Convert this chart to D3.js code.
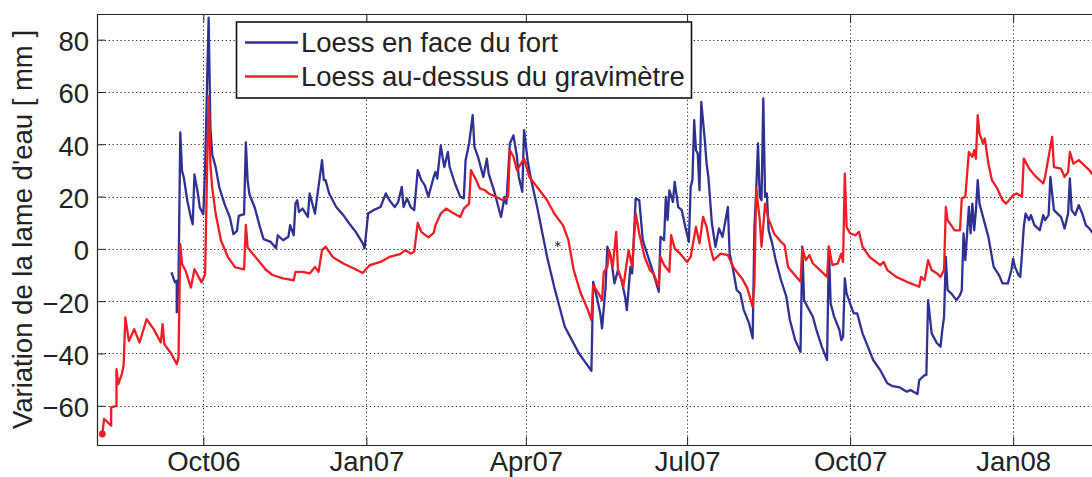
<!DOCTYPE html>
<html>
<head>
<meta charset="utf-8">
<script src="https://cdn.jsdelivr.net/npm/d3@7"></script>
<style>
  body { margin: 0; background: #fff; }
  svg { display: block; }
  text { font-family: "Liberation Sans", Arial, Helvetica, sans-serif; fill: #222; }
</style>
</head>
<body>
<svg id="chart" width="1092" height="477"></svg>
<script>
// Water-layer variation, two loess sites (mm)
const blueDates = [
  "2006-09-13","2006-09-15","2006-09-16","2006-09-16","2006-09-17","2006-09-18","2006-09-19","2006-09-20","2006-09-22","2006-09-24",
  "2006-09-25","2006-09-26","2006-09-28","2006-09-29","2006-10-01","2006-10-02","2006-10-03","2006-10-04","2006-10-05","2006-10-06",
  "2006-10-08","2006-10-10","2006-10-13","2006-10-16","2006-10-18","2006-10-20","2006-10-21","2006-10-24","2006-10-25","2006-10-26",
  "2006-10-27","2006-10-30","2006-11-02","2006-11-04","2006-11-08","2006-11-11","2006-11-12","2006-11-15","2006-11-18","2006-11-19",
  "2006-11-21","2006-11-22","2006-11-23","2006-11-24","2006-11-26","2006-11-29","2006-11-30","2006-12-03","2006-12-05","2006-12-07",
  "2006-12-08","2006-12-09","2006-12-11","2006-12-15","2006-12-19","2006-12-23","2006-12-26","2006-12-30","2006-12-31","2007-01-02",
  "2007-01-05","2007-01-09","2007-01-12","2007-01-14","2007-01-17","2007-01-19","2007-01-21","2007-01-22","2007-01-24","2007-01-26",
  "2007-01-28","2007-01-30","2007-02-01","2007-02-03","2007-02-05","2007-02-08","2007-02-09","2007-02-10","2007-02-12","2007-02-13",
  "2007-02-14","2007-02-16","2007-02-17","2007-02-20","2007-02-23","2007-02-25","2007-02-26","2007-02-28","2007-03-02","2007-03-03",
  "2007-03-05","2007-03-08","2007-03-10","2007-03-11","2007-03-14","2007-03-18","2007-03-20","2007-03-21","2007-03-23","2007-03-25",
  "2007-03-27","2007-03-28","2007-03-30","2007-03-31","2007-04-02","2007-04-04","2007-04-07","2007-04-10","2007-04-13","2007-04-17",
  "2007-04-20","2007-04-23","2007-04-27","2007-05-01","2007-05-05","2007-05-08","2007-05-09","2007-05-11","2007-05-13","2007-05-14",
  "2007-05-16","2007-05-17","2007-05-19","2007-05-21","2007-05-23","2007-05-25","2007-05-27","2007-05-28","2007-05-30","2007-05-31",
  "2007-06-02","2007-06-04","2007-06-06","2007-06-09","2007-06-12","2007-06-15","2007-06-16","2007-06-18","2007-06-19","2007-06-20",
  "2007-06-21","2007-06-23","2007-06-24","2007-06-26","2007-06-28","2007-06-30","2007-07-02","2007-07-03","2007-07-04","2007-07-05",
  "2007-07-06","2007-07-07","2007-07-08","2007-07-09","2007-07-11","2007-07-12","2007-07-13","2007-07-15","2007-07-17","2007-07-19",
  "2007-07-21","2007-07-22","2007-07-24","2007-07-25","2007-07-27","2007-07-29","2007-07-31","2007-08-02","2007-08-05","2007-08-07",
  "2007-08-08","2007-08-09","2007-08-10","2007-08-11","2007-08-12","2007-08-13","2007-08-14","2007-08-15","2007-08-16","2007-08-18",
  "2007-08-20","2007-08-23","2007-08-26","2007-08-28","2007-08-31","2007-09-03","2007-09-04","2007-09-05","2007-09-07","2007-09-10",
  "2007-09-12","2007-09-15","2007-09-18","2007-09-19","2007-09-20","2007-09-22","2007-09-25","2007-09-26","2007-09-27","2007-09-28",
  "2007-09-29","2007-10-01","2007-10-03","2007-10-05","2007-10-08","2007-10-11","2007-10-14","2007-10-18","2007-10-22","2007-10-25",
  "2007-10-29","2007-11-02","2007-11-04","2007-11-08","2007-11-09","2007-11-12","2007-11-13","2007-11-14","2007-11-16","2007-11-19",
  "2007-11-21","2007-11-22","2007-11-23","2007-11-24","2007-11-25","2007-11-27","2007-11-30","2007-12-02","2007-12-03","2007-12-04",
  "2007-12-05","2007-12-06","2007-12-07","2007-12-08","2007-12-09","2007-12-10","2007-12-11","2007-12-12","2007-12-13","2007-12-15",
  "2007-12-18","2007-12-21","2007-12-24","2007-12-26","2007-12-29","2007-12-31","2008-01-01","2008-01-02","2008-01-04","2008-01-05",
  "2008-01-06","2008-01-07","2008-01-08","2008-01-10","2008-01-11","2008-01-13","2008-01-16","2008-01-18","2008-01-19","2008-01-21",
  "2008-01-22","2008-01-24","2008-01-26","2008-01-28","2008-01-30","2008-02-01","2008-02-02","2008-02-03","2008-02-05","2008-02-07",
  "2008-02-09","2008-02-11","2008-02-13","2008-02-15","2008-02-19"
];
const blueValues = [
  -9,-12.8,-12.2,-24.3,-12.2,44.5,29.8,27.3,18.3,12,
  9.4,28.5,20.9,15.8,13.3,30.5,60,88.4,46.4,36.2,
  31.1,23.5,17.1,12,5.6,6.9,12.6,13.3,40.7,26,
  20.9,15.8,8.2,3.7,2.7,0.2,5.2,3.3,4.6,9.1,
  5.2,17.3,18.6,14.1,15.4,12.2,21.2,13.5,23.7,33.9,
  26.3,26.3,21.2,16,12.9,9.1,6.5,2.1,0.2,13.5,
  14.8,16,21.2,18.6,16,18,23.7,16,19.3,16,
  14.8,30.1,26.3,24.3,19.9,27.5,29.4,26.9,39.6,35.2,
  31.3,37.1,31.3,25,19.9,19.3,33.9,40.3,51.1,39,
  35.2,27.5,34.5,28.8,22.4,12.2,19.9,17.3,40.3,43.4,
  35.2,27.5,21.8,45.4,33.9,26.3,17.3,7.1,-3.1,-14.5,
  -22.2,-29.8,-34.9,-40,-43.8,-46.6,-12.6,-18.3,-24.7,-30.4,
  -14.5,0.8,-3.1,-13.2,-8.1,-12,-18.3,-23.4,-6.9,-9.4,
  19.3,18.6,3.3,-3.1,-9.4,-16.4,4.6,3.3,19.9,11,
  22.4,18,25.6,16,14.8,8.4,2.7,23.7,26.3,49.2,
  37.7,36.5,22.4,56.2,41.5,32.6,27.5,9.7,0.8,7.8,
  4.6,8.4,16,-1.8,-8.1,-15.8,-17,-23.4,-28.5,-34.2,
  8.4,22.4,40.3,19.9,18.6,57.5,19.9,21.2,7.1,2.1,
  -4.3,-12,-18.3,-27.2,-34.9,-39.4,0.8,-19.6,-22.2,-26,
  -31.1,-37.4,-42.5,0.8,-20.9,-26,-31.1,-34.9,-33.6,-11.3,
  -17,-20.9,-24.7,-24.7,-32.3,-37.4,-42.5,-46.4,-51.4,-52.5,
  -53,-54.6,-54,-55.5,-50.2,-48.3,-48.3,-19.6,-32.3,-36.1,
  -37.4,-31.1,-26,-3.1,-15.8,-17,-19.6,-17.7,-15.8,5.9,
  -4.3,5.9,16,5.9,17.3,7.1,14.8,26.3,17.3,12.2,
  4.6,-6.9,-10,-13.2,-13.2,-8.1,-3.7,-6.9,-10,-10.7,
  -1.8,8.4,13.5,11,12.9,9.1,7.1,12.9,11,12.9,
  27.5,14.8,13.5,12.2,7.8,13.5,26.9,14.8,12.9,16.7,
  13.5,9.1,7.8,5.9,4.5
];

const redDates = [
  "2006-08-05","2006-08-06","2006-08-08","2006-08-10","2006-08-10","2006-08-13","2006-08-13","2006-08-14","2006-08-16","2006-08-17",
  "2006-08-18","2006-08-20","2006-08-23","2006-08-26","2006-08-30","2006-09-03","2006-09-07","2006-09-08","2006-09-09","2006-09-13",
  "2006-09-16","2006-09-17","2006-09-18","2006-09-19","2006-09-21","2006-09-24","2006-09-26","2006-09-28","2006-09-30","2006-10-02",
  "2006-10-03","2006-10-04","2006-10-05","2006-10-06","2006-10-08","2006-10-11","2006-10-15","2006-10-19","2006-10-24","2006-10-25",
  "2006-10-26","2006-10-29","2006-11-02","2006-11-05","2006-11-09","2006-11-15","2006-11-21","2006-11-22","2006-11-26","2006-11-30",
  "2006-12-03","2006-12-05","2006-12-07","2006-12-09","2006-12-13","2006-12-19","2006-12-25","2006-12-30","2006-12-31","2007-01-03",
  "2007-01-09","2007-01-14","2007-01-20","2007-01-23","2007-01-26","2007-01-28","2007-01-30","2007-02-01","2007-02-05","2007-02-08",
  "2007-02-09","2007-02-12","2007-02-15","2007-02-18","2007-02-23","2007-02-25","2007-02-28","2007-03-01","2007-03-04","2007-03-06",
  "2007-03-09","2007-03-11","2007-03-15","2007-03-19","2007-03-22","2007-03-23","2007-03-25","2007-03-27","2007-03-31","2007-04-03",
  "2007-04-08","2007-04-13","2007-04-17","2007-04-22","2007-04-25","2007-04-28","2007-05-02","2007-05-06","2007-05-08","2007-05-09",
  "2007-05-12","2007-05-14","2007-05-15","2007-05-17","2007-05-18","2007-05-20","2007-05-22","2007-05-23","2007-05-25","2007-05-26",
  "2007-05-29","2007-05-31","2007-06-02","2007-06-04","2007-06-07","2007-06-10","2007-06-12","2007-06-15","2007-06-16","2007-06-18",
  "2007-06-21","2007-06-22","2007-06-24","2007-06-27","2007-07-01","2007-07-03","2007-07-06","2007-07-08","2007-07-10","2007-07-12",
  "2007-07-14","2007-07-16","2007-07-20","2007-07-24","2007-07-27","2007-07-29","2007-08-01","2007-08-04","2007-08-07","2007-08-08",
  "2007-08-09","2007-08-11","2007-08-12","2007-08-14","2007-08-16","2007-08-17","2007-08-19","2007-08-23","2007-08-25","2007-08-27",
  "2007-08-30","2007-09-03","2007-09-04","2007-09-06","2007-09-08","2007-09-10","2007-09-14","2007-09-18","2007-09-19","2007-09-21",
  "2007-09-24","2007-09-26","2007-09-27","2007-09-28","2007-09-29","2007-10-01","2007-10-04","2007-10-06","2007-10-08","2007-10-12",
  "2007-10-18","2007-10-20","2007-10-22","2007-10-27","2007-11-02","2007-11-09","2007-11-10","2007-11-12","2007-11-14","2007-11-16",
  "2007-11-19","2007-11-21","2007-11-23","2007-11-24","2007-11-25","2007-11-29","2007-12-02","2007-12-03","2007-12-05","2007-12-07",
  "2007-12-09","2007-12-10","2007-12-11","2007-12-12","2007-12-13","2007-12-15","2007-12-16","2007-12-18","2007-12-20","2007-12-23",
  "2007-12-26","2007-12-28","2008-01-01","2008-01-03","2008-01-06","2008-01-07","2008-01-10","2008-01-13","2008-01-18","2008-01-19",
  "2008-01-22","2008-01-23","2008-01-24","2008-01-28","2008-01-30","2008-02-01","2008-02-02","2008-02-04","2008-02-07","2008-02-10",
  "2008-02-13","2008-02-15","2008-02-19"
];
const redValues = [
  -70.8,-65,-66.3,-67.6,-60.6,-60,-46,-51.7,-47.9,-44.7,
  -26.2,-35.2,-30.7,-35.8,-26.9,-30.7,-35.8,-28.8,-36.4,-40.2,
  -44.1,-41.5,1.8,-5.8,-8.4,-14.8,-7.8,-10.3,-12.8,-9.7,
  26,58.5,32.4,23.5,13.3,3.1,-3.3,-7.1,-7.8,9.2,
  0.5,-2,-5.2,-7.8,-10,-11.3,-12,-8.8,-8.8,-9.4,
  -6.9,-8.8,-0.5,0.8,-3.1,-5.6,-7.5,-9.2,-8.4,-6.2,
  -5,-3.1,-2,-0.5,-1.8,-1.1,9.9,6.5,4.4,6.1,
  9,13.5,15.4,14.1,12.2,15.4,17.3,30.1,26.3,23.1,
  22.4,21.2,19.9,18.6,19.9,37.7,35.2,30.1,34.5,27.5,
  23.1,18.6,13.5,9,3.3,-8.1,-17,-23.4,-27.2,-13.9,
  -17,-19.6,-8.8,-6.9,-0.5,-6.9,6.5,-8.1,-12,-14.5,
  -0.5,-6.9,13.5,5.9,-3.1,-8.1,-9.4,-14.5,-3.1,-6.2,
  -8.8,5.2,0.2,-1.8,-5,-3.1,8.4,2.1,12.2,8.4,
  0.8,-4.3,-1.8,-2.4,-6.9,-8.8,-11.3,-15.1,-22.2,-13.2,
  23.1,11,0.8,17.3,11,9.7,5.9,2.7,1.4,-6.9,
  -9.4,-12.6,0.2,-4.3,-2.4,-5.6,-8.1,-10.7,0.8,-6.2,
  -5.6,-1.8,-5,28.8,8.4,5.9,5.2,6.5,0.8,-3.1,
  -6.2,-5,-8.1,-10.7,-12.6,-14.5,-10.7,-12,-4.3,-8.1,
  -9.4,-10.7,-8.1,16,11,7.1,7.1,19.3,19.9,37.1,
  35.2,37.7,34.5,51.1,44.1,40.3,42.2,32.6,26.3,23.1,
  18.6,17.3,20.5,21.2,19.9,34.5,30.7,28.2,25,27.5,
  39,42.8,31.3,30.7,27.5,29.4,37.1,32.6,33.9,32,
  30.1,28.2,27
];

// isolated point plotted with a star marker
const starDates = ["2007-04-19"];
const starValues = [1.8];

const xTickDates = ["2006-10-01","2007-01-01","2007-04-01","2007-07-01","2007-10-01","2008-01-01"];
const xTickLabels = ["Oct06","Jan07","Apr07","Jul07","Oct07","Jan08"];
const yTicks = [-60,-40,-20,0,20,40,60,80];
const xDomain = ["2006-08-02","2008-02-19"];
const yDomain = [-75, 90];

const seriesNames = ["Loess en face du fort", "Loess au-dessus du gravimètre"];
const seriesColors = ["#2e3192", "#ee1c25"];
const yLabel = "Variation de la lame d'eau [ mm ]";

const parse = d3.timeParse("%Y-%m-%d");
const svg = d3.select("#chart");

const plotLeft = 97, plotRight = 1100, plotTop = 14, plotBottom = 445;
const x = d3.scaleTime().domain(xDomain.map(parse)).range([plotLeft, plotRight]);
const y = d3.scaleLinear().domain(yDomain).range([plotBottom, 13.5]);

svg.append("rect").attr("width", 1092).attr("height", 477).attr("fill", "#fff");

svg.append("defs").append("clipPath").attr("id", "plot")
  .append("rect").attr("x", plotLeft).attr("y", plotTop)
  .attr("width", plotRight - plotLeft).attr("height", plotBottom - plotTop);

// dotted grid
const grid = svg.append("g").attr("stroke", "#333").attr("stroke-width", 1)
  .attr("stroke-dasharray", "1.3,2.6");
grid.selectAll("line.v").data(xTickDates.map(parse)).join("line").attr("class", "v")
  .attr("x1", d => Math.round(x(d)) + 0.5).attr("x2", d => Math.round(x(d)) + 0.5)
  .attr("y1", plotTop).attr("y2", plotBottom);
grid.selectAll("line.h").data(yTicks).join("line").attr("class", "h")
  .attr("x1", plotLeft).attr("x2", plotRight)
  .attr("y1", d => Math.round(y(d)) + 0.5).attr("y2", d => Math.round(y(d)) + 0.5);

// series
const line = d3.line().x(d => x(d.date)).y(d => y(d.value));
const toPoints = (dates, values) => dates.map((d, i) => ({ date: parse(d), value: values[i] }));
const series = [toPoints(blueDates, blueValues), toPoints(redDates, redValues)];

const plot = svg.append("g").attr("clip-path", "url(#plot)");
plot.selectAll("path.series").data(series).join("path")
  .attr("class", "series")
  .attr("fill", "none")
  .attr("stroke", (d, i) => seriesColors[i])
  .attr("stroke-width", 2.3)
  .attr("stroke-linejoin", "round")
  .attr("d", line);

// start marker of the second series
plot.append("circle")
  .attr("cx", x(series[1][0].date)).attr("cy", y(series[1][0].value))
  .attr("r", 3.4).attr("fill", seriesColors[1]);

plot.selectAll("path.star").data(toPoints(starDates, starValues)).join("path")
  .attr("class", "star")
  .attr("transform", d => `translate(${x(d.date)},${y(d.value)})`)
  .attr("d", d3.symbol(d3.symbolAsterisk, 28))
  .attr("fill", "none").attr("stroke", "#333").attr("stroke-width", 1);

// axes (ticks pointing inward)
const fontSize = 27.5;
const xAxis = d3.axisBottom(x).tickValues(xTickDates.map(parse))
  .tickFormat((d, i) => xTickLabels[i]).tickSizeInner(-8).tickSizeOuter(0).tickPadding(6.5);
const gx = svg.append("g").attr("transform", `translate(0,${plotBottom})`).call(xAxis);
gx.select(".domain").remove();
gx.selectAll("text").attr("font-size", fontSize).attr("fill", "#222");
gx.selectAll("line").attr("stroke", "#222");
gx.attr("font-family", null).attr("font-size", null);

const xTop = d3.axisTop(x).tickValues(xTickDates.map(parse)).tickFormat("").tickSizeInner(-8).tickSizeOuter(0);
const gxt = svg.append("g").attr("transform", `translate(0,${plotTop})`).call(xTop);
gxt.select(".domain").remove();
gxt.selectAll("line").attr("stroke", "#222");

const yAxis = d3.axisLeft(y).tickValues(yTicks).tickSizeInner(-8).tickSizeOuter(0).tickPadding(8);
const gy = svg.append("g").attr("transform", `translate(${plotLeft},0)`).call(yAxis);
gy.select(".domain").remove();
gy.selectAll("text").attr("font-size", fontSize).attr("fill", "#222").attr("dy", "0.4em");
gy.selectAll("line").attr("stroke", "#222");
gy.attr("font-family", null).attr("font-size", null);

// frame
svg.append("path")
  .attr("d", `M${plotRight},${plotTop + 0.5}H${plotLeft + 0.5}V${plotBottom + 0.5}H${plotRight}`)
  .attr("fill", "none").attr("stroke", "#222").attr("stroke-width", 1.2);

// y label
svg.append("text")
  .attr("transform", `translate(31.5,${(plotTop + plotBottom) / 2}) rotate(-90)`)
  .attr("text-anchor", "middle")
  .attr("font-size", fontSize)
  .text(yLabel);

// legend
const lg = svg.append("g");
lg.append("rect").attr("x", 236.5).attr("y", 22).attr("width", 455).attr("height", 76)
  .attr("fill", "#fff").attr("stroke", "#111").attr("stroke-width", 1.6);
const rows = lg.selectAll("g.row").data(seriesNames).join("g").attr("class", "row")
  .attr("transform", (d, i) => `translate(0,${42.5 + i * 34})`);
rows.append("line").attr("x1", 245).attr("x2", 298).attr("y1", 0).attr("y2", 0)
  .attr("stroke", (d, i) => seriesColors[i]).attr("stroke-width", 2.3);
rows.append("text").attr("x", 301).attr("y", 9.5).attr("font-size", fontSize).text(d => d);
</script>
</body>
</html>
